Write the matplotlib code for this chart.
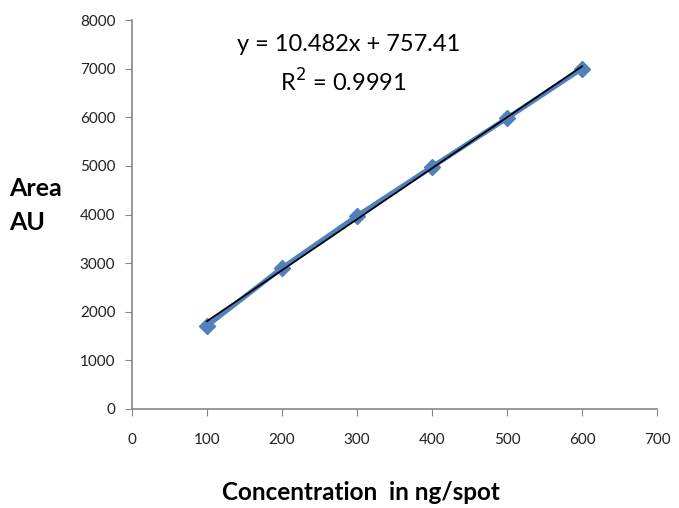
import matplotlib
matplotlib.use("Agg")
from matplotlib import pyplot as plt
import numpy as np

plt.rcParams['font.family'] = ['Lato', 'DejaVu Sans']

# data
conc = [100, 200, 300, 400, 500, 600]
area = [1710, 2900, 3970, 4980, 5980, 7000]
slope = 10.482
intercept = 757.41
r2 = 0.9991

fig = plt.figure(figsize=(6.79, 5.08), dpi=100)
ax = fig.add_axes([0.1944, 0.1949, 0.7732, 0.7657])

ax.plot(conc, area, color="#4F81BD", lw=3.5, marker="D", ms=8,
        markeredgecolor="#4F81BD", zorder=2)
xfit = np.array([conc[0], conc[-1]])
ax.plot(xfit, slope * xfit + intercept, color="black", lw=1.3, zorder=3)

ax.set_xlim(0, 700)
ax.set_ylim(0, 8000)
ax.set_xticks(range(0, 701, 100))
ax.set_yticks(range(0, 8001, 1000))

for s in ["top", "right"]:
    ax.spines[s].set_visible(False)
for s in ["left", "bottom"]:
    ax.spines[s].set_color("#868686")
    ax.spines[s].set_linewidth(1.2)
ax.tick_params(direction="out", length=5, color="#868686", labelsize=11,
               labelcolor="#222222")
ax.tick_params(axis="x", pad=12)
ax.tick_params(axis="y", pad=7)

ax.text(0.413, 0.936, "y = %.3fx + %.2f" % (slope, intercept),
        transform=ax.transAxes, ha="center", va="center", fontsize=17)
ax.text(0.402, 0.841, "R$^2$ = %.4f" % r2,
        transform=ax.transAxes, ha="center", va="center", fontsize=17)

fig.text(0.014, 0.596, "Area\nAU", ha="left", va="center", fontsize=18,
         fontweight="bold", linespacing=1.6)
fig.text(0.532, 0.03, "Concentration  in ng/spot", ha="center", va="center",
         fontsize=17.5, fontweight="bold")

fig.savefig("out.png", dpi=100)
